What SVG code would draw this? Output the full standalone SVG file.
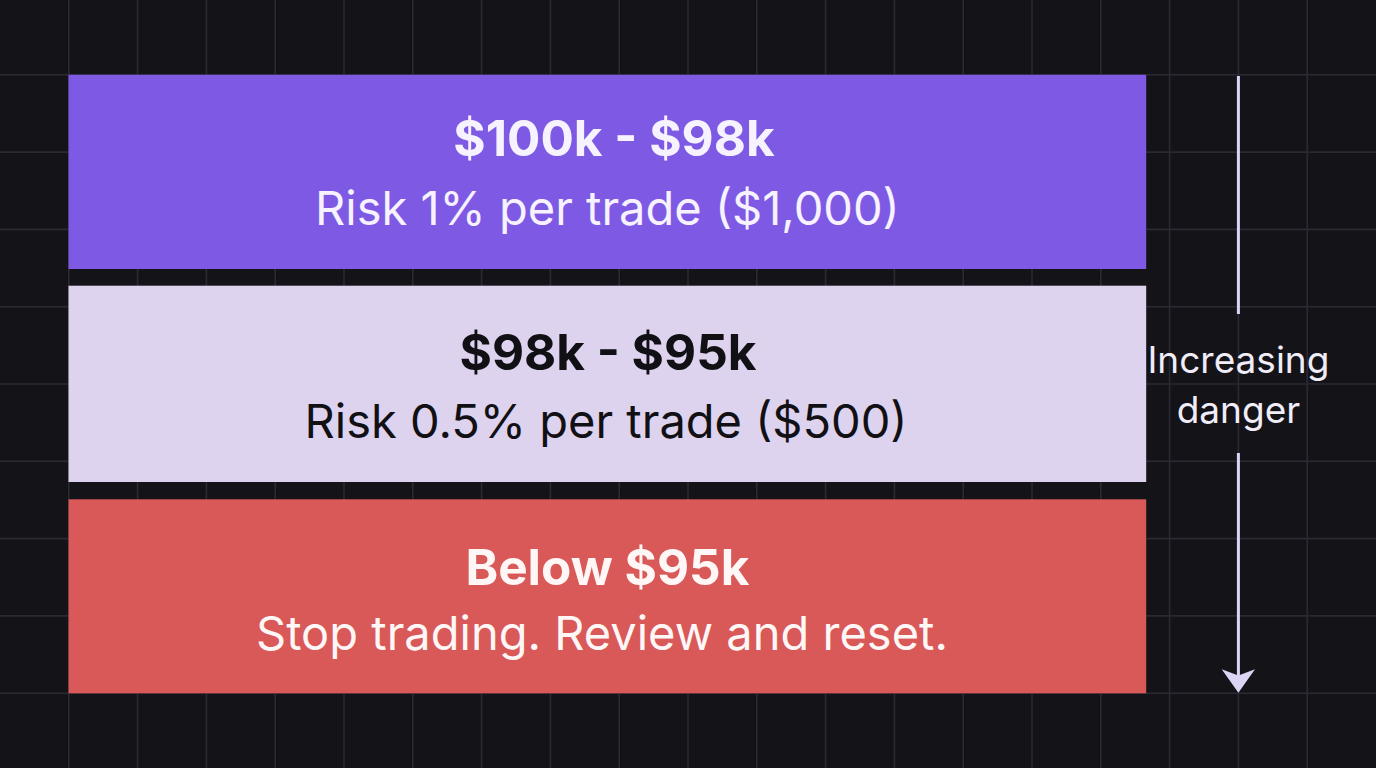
<svg xmlns="http://www.w3.org/2000/svg" width="1376" height="768" viewBox="0 0 1376 768">
<defs>
<style>
.grid line{stroke:#2a2934;stroke-width:1.6}
.t{font-family:Inter,"Noto Sans","Liberation Sans",sans-serif;text-anchor:middle}
.title{font-size:49.5px;font-weight:700}
.sub{font-size:47px;font-weight:400}
.side{font-size:37px;font-weight:400;fill:#f0ecf8}
</style>
</defs>
<rect width="1376" height="768" fill="#141318"/>
<g class="grid">
<line x1="68.8" y1="0" x2="68.8" y2="768"/><line x1="137.6" y1="0" x2="137.6" y2="768"/><line x1="206.4" y1="0" x2="206.4" y2="768"/><line x1="275.2" y1="0" x2="275.2" y2="768"/><line x1="344" y1="0" x2="344" y2="768"/><line x1="412.8" y1="0" x2="412.8" y2="768"/><line x1="481.6" y1="0" x2="481.6" y2="768"/><line x1="550.4" y1="0" x2="550.4" y2="768"/><line x1="619.2" y1="0" x2="619.2" y2="768"/><line x1="688" y1="0" x2="688" y2="768"/><line x1="756.8" y1="0" x2="756.8" y2="768"/><line x1="825.6" y1="0" x2="825.6" y2="768"/><line x1="894.4" y1="0" x2="894.4" y2="768"/><line x1="963.2" y1="0" x2="963.2" y2="768"/><line x1="1032" y1="0" x2="1032" y2="768"/><line x1="1100.8" y1="0" x2="1100.8" y2="768"/><line x1="1169.6" y1="0" x2="1169.6" y2="768"/><line x1="1238.4" y1="0" x2="1238.4" y2="768"/><line x1="1307.2" y1="0" x2="1307.2" y2="768"/>
<line x1="0" y1="74.8" x2="1376" y2="74.8"/><line x1="0" y1="152.1" x2="1376" y2="152.1"/><line x1="0" y1="229.4" x2="1376" y2="229.4"/><line x1="0" y1="306.7" x2="1376" y2="306.7"/><line x1="0" y1="384" x2="1376" y2="384"/><line x1="0" y1="461.3" x2="1376" y2="461.3"/><line x1="0" y1="538.6" x2="1376" y2="538.6"/><line x1="0" y1="615.9" x2="1376" y2="615.9"/><line x1="0" y1="693.2" x2="1376" y2="693.2"/>
</g>
<g id="tier1">
<rect x="68.5" y="74.8" width="1077.7" height="194.2" fill="#7e5ae4"/>
<text class="t title" x="614" y="156" fill="#f6f2ff">$100k - $98k</text>
<text class="t sub" x="607.4" y="225" fill="#f6f2ff">Risk 1% per trade ($1,000)</text>
</g>
<g id="tier2">
<rect x="68.5" y="285.7" width="1077.7" height="196.3" fill="#ddd3ef"/>
<text class="t title" x="608" y="370" fill="#111014">$98k - $95k</text>
<text class="t sub" x="606" y="438" fill="#111014">Risk 0.5% per trade ($500)</text>
</g>
<g id="tier3">
<rect x="68.5" y="499.3" width="1077.7" height="194" fill="#d95858"/>
<text class="t title" x="607.4" y="585" fill="#fff6f6">Below $95k</text>
<text class="t sub" x="602" y="650" fill="#fff6f6">Stop trading. Review and reset.</text>
</g>
<g id="danger-label">
<text class="t side" x="1238.4" y="373">Increasing</text>
<text class="t side" x="1238.4" y="423">danger</text>
</g>
<g id="connectors">
<line x1="1238.4" y1="76" x2="1238.4" y2="314" stroke="#dcd4f4" stroke-width="3"/>
<line x1="1238.4" y1="453" x2="1238.4" y2="676" stroke="#dcd4f4" stroke-width="3"/>
<path d="M1221.7 669.3 L1238.4 675.5 L1255 669.3 L1238.4 692.7 Z" fill="#dcd4f4"/>
</g>
</svg>
